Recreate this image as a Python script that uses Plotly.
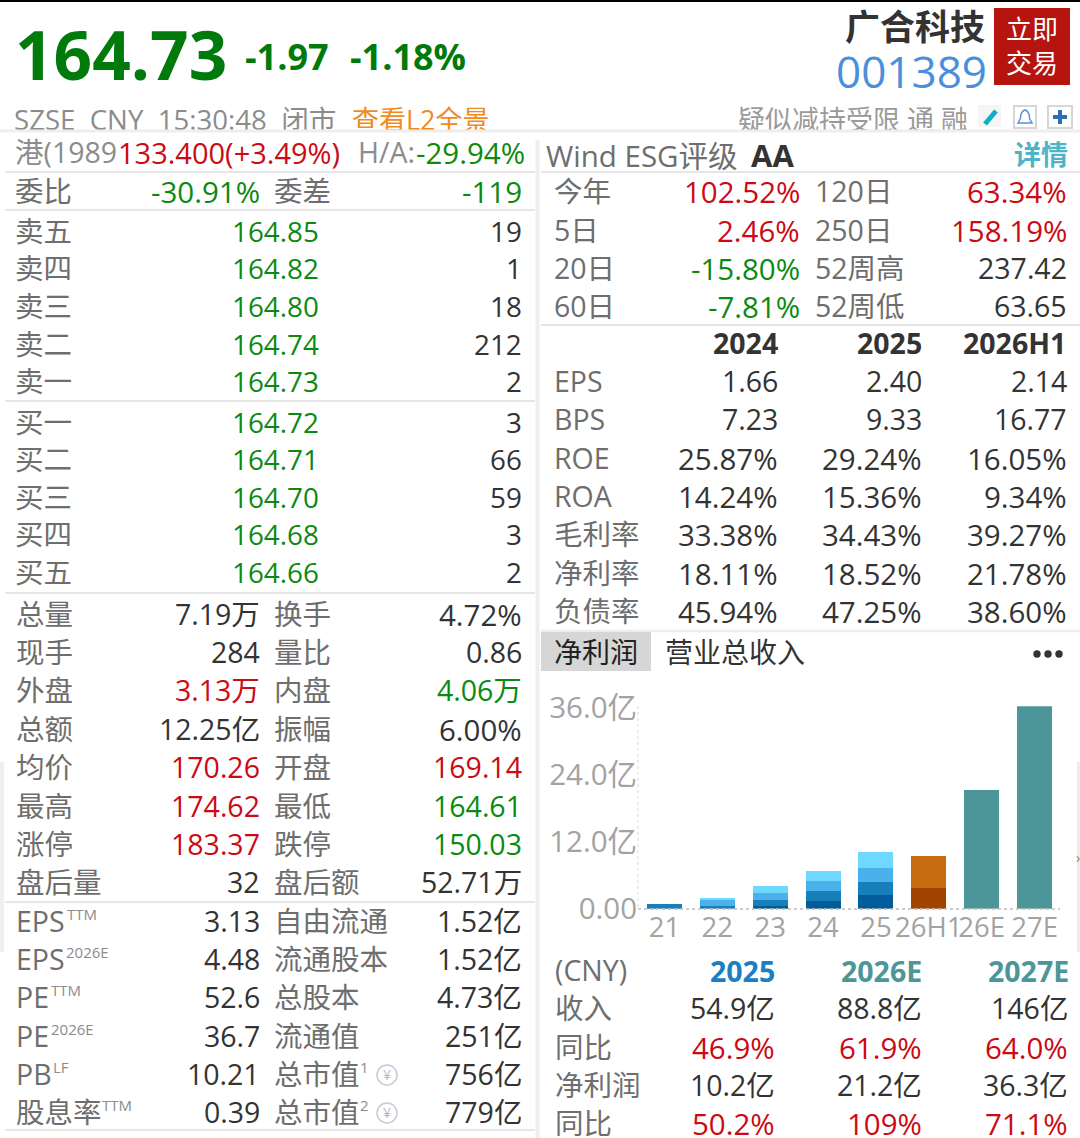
import plotly.graph_objects as go

W, H = 1080, 1138

# ---------- chart data ----------
PERIODS = ["21", "22", "23", "24", "25", "26H1", "26E", "27E"]
Q1 = [None, None, 0.5, 1.4, 2.45, None, None, None]
Q2 = [0.85, 0.5, 1.1, 1.7, 2.4, None, None, None]
Q3 = [None, 1.0, 1.25, 1.8, 2.4, None, None, None]
Q4 = [None, 0.5, 1.3, 1.9, 3.0, None, None, None]
H1_FIRST = [None, None, None, None, None, 3.8, None, None]
H1_SECOND = [None, None, None, None, None, 5.7, None, None]
FORECAST = [None, None, None, None, None, None, 21.2, 36.3]
Y_TICKS = [0, 12, 24, 36]
Y_TICK_LABELS = ["0.00", "12.0亿", "24.0亿", "36.0亿"]

# ---------- text data ----------
LAST_PRICE, CHANGE, CHANGE_PCT = "164.73", "-1.97", "-1.18%"
NAME, CODE = "广合科技", "001389"
STATUS = "SZSE  CNY  15:30:48  闭市"
L2_LINK = "查看L2全景"
FLAGS = "疑似减持受限 通 融"
HK_LABEL, HK_PRICE, HA_LABEL, HA_VALUE = "港(1989", "133.400(+3.49%)", "H/A:", "-29.94%"
COMMITTEE = ["委比", "-30.91%", "委差", "-119"]

ASK_LABELS = ["卖五", "卖四", "卖三", "卖二", "卖一"]
ASK_PRICES = ["164.85", "164.82", "164.80", "164.74", "164.73"]
ASK_SIZES = ["19", "1", "18", "212", "2"]
BID_LABELS = ["买一", "买二", "买三", "买四", "买五"]
BID_PRICES = ["164.72", "164.71", "164.70", "164.68", "164.66"]
BID_SIZES = ["3", "66", "59", "3", "2"]

STAT_LABELS_L = ["总量", "现手", "外盘", "总额", "均价", "最高", "涨停", "盘后量"]
STAT_VALUES_L = ["7.19万", "284", "3.13万", "12.25亿", "170.26", "174.62", "183.37", "32"]
STAT_LABELS_R = ["换手", "量比", "内盘", "振幅", "开盘", "最低", "跌停", "盘后额"]
STAT_VALUES_R = ["4.72%", "0.86", "4.06万", "6.00%", "169.14", "164.61", "150.03", "52.71万"]

VAL_LABELS_L = ["EPS", "EPS", "PE", "PE", "PB", "股息率"]
VAL_SUPS_L = ["TTM", "2026E", "TTM", "2026E", "LF", "TTM"]
VAL_VALUES_L = ["3.13", "4.48", "52.6", "36.7", "10.21", "0.39"]
VAL_LABELS_R = ["自由流通", "流通股本", "总股本", "流通值", "总市值", "总市值"]
VAL_VALUES_R = ["1.52亿", "1.52亿", "4.73亿", "251亿", "756亿", "779亿"]

ESG_LABEL, ESG_RATING, ESG_LINK = "Wind ESG评级", "AA", "详情"
RET_LABELS_L = ["今年", "5日", "20日", "60日"]
RET_VALUES_L = ["102.52%", "2.46%", "-15.80%", "-7.81%"]
RET_LABELS_R = ["120日", "250日", "52周高", "52周低"]
RET_VALUES_R = ["63.34%", "158.19%", "237.42", "63.65"]

FIN_YEARS = ["2024", "2025", "2026H1"]
FIN_LABELS = ["EPS", "BPS", "ROE", "ROA", "毛利率", "净利率", "负债率"]
FIN_2024 = ["1.66", "7.23", "25.87%", "14.24%", "33.38%", "18.11%", "45.94%"]
FIN_2025 = ["2.40", "9.33", "29.24%", "15.36%", "34.43%", "18.52%", "47.25%"]
FIN_2026H1 = ["2.14", "16.77", "16.05%", "9.34%", "39.27%", "21.78%", "38.60%"]

TAB_ACTIVE, TAB_OTHER = "净利润", "营业总收入"
FC_CURRENCY = "(CNY)"
FC_YEARS = ["2025", "2026E", "2027E"]
FC_LABELS = ["收入", "同比", "净利润", "同比"]
FC_2025 = ["54.9亿", "46.9%", "10.2亿", "50.2%"]
FC_2026 = ["88.8亿", "61.9%", "21.2亿", "109%"]
FC_2027 = ["146亿", "64.0%", "36.3亿", "71.1%"]

# ---------- styles ----------
FONT = "'Open Sans', 'Noto Sans CJK SC', sans-serif"
GREEN, RED, DARK, GRAY, ORANGE = "#0b8a12", "#cc0a14", "#333333", "#6e6e6e", "#f28a1c"
BLUE, TEAL, LINK = "#1b7fc1", "#4c9699", "#4fb3c8"
SIZE = 28.5
PCT_SIZE = 29.5
Y_NUDGE = -0.7


def sign_colour(s):
    return GREEN if s.startswith("-") else RED


STAT_COLOURS_L = [DARK, DARK, RED, DARK, RED, RED, RED, DARK]
STAT_COLOURS_R = [DARK, DARK, GREEN, DARK, RED, GREEN, GREEN, DARK]

px = lambda x: x / W
py = lambda y: 1 - y / H
annotations, shapes = [], []


def text(x, y, s, anchor="left", size=None, colour=DARK, bold=False):
    if size is None:
        size = PCT_SIZE if ("%" in s or s.startswith("-")) else SIZE
    annotations.append(dict(
        x=px(x), y=py(y + Y_NUDGE), xref="paper", yref="paper", text=f"<b>{s}</b>" if bold else s,
        showarrow=False, xanchor=anchor, yanchor="middle", borderpad=0, borderwidth=0,
        font=dict(family=FONT, size=size, color=colour)))


def rect(x0, y0, x1, y1, fill, line=None, width=0):
    shapes.append(dict(type="rect", xref="paper", yref="paper", x0=px(x0), x1=px(x1), y0=py(y0), y1=py(y1),
                       fillcolor=fill, line=dict(color=line or fill, width=width), layer="below"))


def hline(x0, x1, y, colour="#dedede", width=1.5):
    shapes.append(dict(type="line", xref="paper", yref="paper", x0=px(x0), x1=px(x1), y0=py(y), y1=py(y),
                       line=dict(color=colour, width=width), layer="below"))


def seg(x0, y0, x1, y1, colour, width, dash="solid", layer="above"):
    shapes.append(dict(type="line", xref="paper", yref="paper", x0=px(x0), x1=px(x1), y0=py(y0), y1=py(y1),
                       line=dict(color=colour, width=width, dash=dash), layer=layer))


def circle(cx, cy, r, fill, line=None, width=0):
    shapes.append(dict(type="circle", xref="paper", yref="paper", x0=px(cx - r), x1=px(cx + r),
                       y0=py(cy + r), y1=py(cy - r), fillcolor=fill, line=dict(color=line or fill, width=width)))


# ---------- frame ----------
rect(0, 0, W, 2, "#000000")
rect(0, 762, 4, 952, "#efefef")
rect(1077, 762, W, 952, "#ececec")
hline(4, W, 132, "#eeeeee", 4)
shapes.append(dict(type="line", xref="paper", yref="paper", x0=px(537.5), x1=px(537.5), y0=py(134), y1=py(H),
                   line=dict(color="#eeeeee", width=4), layer="below"))
for y in (172, 210, 401, 593, 902, 1130):
    hline(5, 535, y)
hline(541, W, 172)
hline(541, W, 325)
hline(541, W, 631, "#eeeeee", 2.5)

# ---------- header ----------
text(15, 55, LAST_PRICE, size=67.5, colour="#007a0a", bold=True)
text(245, 57, CHANGE, size=36, colour="#007a0a", bold=True)
text(350, 57, CHANGE_PCT, size=36, colour="#007a0a", bold=True)
text(985, 27.5, NAME, "right", size=35, colour="#333333", bold=True)
text(987, 72, CODE, "right", size=44, colour="#4a8fdb")
rect(994, 8, 1070, 85, "#b5140f")
text(1032, 30, "立即", "center", size=26, colour="#ffffff")
text(1032, 64, "交易", "center", size=26, colour="#ffffff")
text(14, 120, STATUS, size=27.6, colour="#8c8c8c")
text(352, 120, L2_LINK, size=27, colour=ORANGE)
text(968, 120, FLAGS, "right", size=27, colour="#9a9a9a")
# clipped bottom of the status row
annotations.append(dict(x=px(540), y=py(131.5), xref="paper", yref="paper", text=" ", showarrow=False,
                        width=W, height=4, bgcolor="#eeeeee", borderpad=0, xanchor="center", yanchor="middle",
                        font=dict(size=1)))
annotations.append(dict(x=px(540), y=py(137), xref="paper", yref="paper", text=" ", showarrow=False,
                        width=W, height=7, bgcolor="#ffffff", borderpad=0, xanchor="center", yanchor="middle",
                        font=dict(size=1)))
# icons
rect(978, 105, 1001, 127, "#f5f5f5")
seg(985, 124, 996, 111, "#12aec8", 5)
shapes.append(dict(type="rect", xref="paper", yref="paper", x0=px(1014), x1=px(1036), y0=py(128), y1=py(106),
                   line=dict(color="#d6d6d6", width=2), fillcolor="#ffffff"))
shapes.append(dict(type="path", xref="paper", yref="paper",
                   path=f"M {px(1018)} {py(123)} Q {px(1021)} {py(119)} {px(1021)} {py(114)} "
                        f"Q {px(1025)} {py(106)} {px(1029)} {py(114)} Q {px(1029)} {py(119)} {px(1032)} {py(123)} Z",
                   line=dict(color="#5b8ed6", width=1.5), fillcolor="#ffffff"))
shapes.append(dict(type="rect", xref="paper", yref="paper", x0=px(1048), x1=px(1072), y0=py(128), y1=py(106),
                   line=dict(color="#d6d6d6", width=2), fillcolor="#ffffff"))
seg(1060, 110, 1060, 124, "#2f6db5", 4)
seg(1053, 117, 1067, 117, "#2f6db5", 4)

# ---------- left column ----------
text(15, 153, HK_LABEL, colour="#8c8c8c")
text(118, 153, HK_PRICE, size=29, colour=RED)
text(358, 153, HA_LABEL, colour="#8c8c8c")
text(525, 153, HA_VALUE, "right", colour=GREEN)
text(15, 192, COMMITTEE[0], colour=GRAY)
text(260, 192, COMMITTEE[1], "right", colour=GREEN)
text(274, 192, COMMITTEE[2], colour=GRAY)
text(522, 192, COMMITTEE[3], "right", colour=GREEN)

for y, a, b, c in zip([232, 269, 307, 345, 382], ASK_LABELS, ASK_PRICES, ASK_SIZES):
    text(15, y, a, colour=GRAY)
    text(319, y, b, "right", size=27.8, colour=GREEN)
    text(522, y, c, "right", size=27.8, colour=DARK)
for y, a, b, c in zip([423, 460, 498, 535, 573], BID_LABELS, BID_PRICES, BID_SIZES):
    text(15, y, a, colour=GRAY)
    text(319, y, b, "right", size=27.8, colour=GREEN)
    text(522, y, c, "right", size=27.8, colour=DARK)

for i, y in enumerate([615, 653, 691, 730, 768, 807, 845, 883]):
    text(16, y, STAT_LABELS_L[i], colour=GRAY)
    text(260, y, STAT_VALUES_L[i], "right", colour=STAT_COLOURS_L[i])
    text(274, y, STAT_LABELS_R[i], colour=GRAY)
    text(522, y, STAT_VALUES_R[i], "right", colour=STAT_COLOURS_R[i])

SUP_X = [67, 66, 51, 51, 53, 102]
for i, y in enumerate([922, 960, 998, 1037, 1075, 1113]):
    text(16, y, VAL_LABELS_L[i], colour=GRAY)
    text(SUP_X[i], y - 7, VAL_SUPS_L[i], size=15, colour="#8c8c8c")
    text(260, y, VAL_VALUES_L[i], "right", colour=DARK)
    text(274, y, VAL_LABELS_R[i], colour=GRAY)
    text(522, y, VAL_VALUES_R[i], "right", colour=DARK)
for y, n in ((1075, "1"), (1113, "2")):
    text(360, y - 7, n, "left", size=15, colour="#8c8c8c")
    circle(387, y, 10, "rgba(0,0,0,0)", "#c6cad2", 1.5)
    text(387, y, "¥", "center", size=14, colour="#b0b4bc")

# ---------- right column ----------
text(546, 156, ESG_LABEL, size=29.5, colour=GRAY)
text(751, 156, ESG_RATING, size=31, colour=DARK, bold=True)
text(1068, 155, ESG_LINK, "right", size=27, colour=LINK, bold=True)
for i, y in enumerate([192, 231, 269, 307]):
    text(554, y, RET_LABELS_L[i], colour=GRAY)
    text(800, y, RET_VALUES_L[i], "right", colour=sign_colour(RET_VALUES_L[i]))
    text(815, y, RET_LABELS_R[i], colour=GRAY)
    text(1067, y, RET_VALUES_R[i], "right", colour=RED if i < 2 else DARK)
for x, s in zip([778, 922, 1066], FIN_YEARS):
    text(x, 344, s, "right", size=28.5, colour=DARK, bold=True)
for i, y in enumerate([382, 420, 459, 497, 535, 574, 612]):
    text(554, y, FIN_LABELS[i], colour=GRAY)
    text(778, y, FIN_2024[i], "right", colour=DARK)
    text(922, y, FIN_2025[i], "right", colour=DARK)
    text(1067, y, FIN_2026H1[i], "right", colour=DARK)

rect(541, 632, 651, 671, "#d6d6d6")
text(554, 653, TAB_ACTIVE, size=28, colour="#222222")
text(665, 653, TAB_OTHER, size=28, colour=DARK)
for x in (1037, 1048, 1059):
    circle(x, 654, 3.7, "#333333")

seg(638, 706, 638, 909, "#d8d8d8", 1, "dot", "below")
seg(638, 909, 1060, 909, "#bdbdbd", 1.5, "dot", "above")

text(555, 971, FC_CURRENCY, colour=GRAY)
for x, s, c in zip([775, 922, 1069], FC_YEARS, [BLUE, TEAL, TEAL]):
    text(x, 972, s, "right", size=28.5, colour=c, bold=True)
for i, y in enumerate([1009, 1048, 1086, 1124]):
    text(555, y, FC_LABELS[i], colour=GRAY)
    pct = i % 2 == 1
    text(775, y, FC_2025[i], "right", colour=RED if pct else DARK)
    text(922, y, FC_2026[i], "right", colour=RED if pct else DARK)
    text(1068, y, FC_2027[i], "right", colour=RED if pct else DARK)
text(1080, 858, "›", "right", size=14, colour="#888888")

# ---------- bar chart ----------
fig = go.Figure()
for name, vals, colour in [("Q1", Q1, "#005c9a"), ("Q2", Q2, "#1780bb"), ("Q3", Q3, "#4ab1ec"),
                           ("Q4", Q4, "#6ed8ff"), ("H1-1", H1_FIRST, "#a04400"), ("H1-2", H1_SECOND, "#c66c10"),
                           ("E", FORECAST, TEAL)]:
    fig.add_trace(go.Bar(x=PERIODS, y=vals, name=name, marker=dict(color=colour, line=dict(width=0))))

fig.update_layout(
    width=W, height=H, margin=dict(l=0, r=0, t=0, b=0, pad=0, autoexpand=False), barmode="stack", bargap=0.34,
    showlegend=False, paper_bgcolor="#ffffff", plot_bgcolor="#ffffff",
    annotations=annotations, shapes=shapes, font=dict(family=FONT),
    xaxis=dict(domain=[px(638), px(1061)], type="category", tickmode="array", tickvals=PERIODS, ticktext=PERIODS,
               tickangle=0, showgrid=False, zeroline=False, showline=False, ticks="", automargin=False,
               tickfont=dict(size=27.5, color="#a3a3a3", family=FONT), anchor="y", fixedrange=True),
    yaxis=dict(domain=[py(908.7), py(706.3)], range=[0, 36.3], tickmode="array", tickvals=Y_TICKS,
               ticktext=Y_TICK_LABELS, showgrid=False, zeroline=False, showline=False, ticks="", automargin=False,
               tickfont=dict(size=29.5, color="#a3a3a3", family=FONT), anchor="x", fixedrange=True),
)
fig.write_html("out.html", post_script="document.body.style.margin='0';document.body.style.overflow='hidden';",
               config=dict(displayModeBar=False))
